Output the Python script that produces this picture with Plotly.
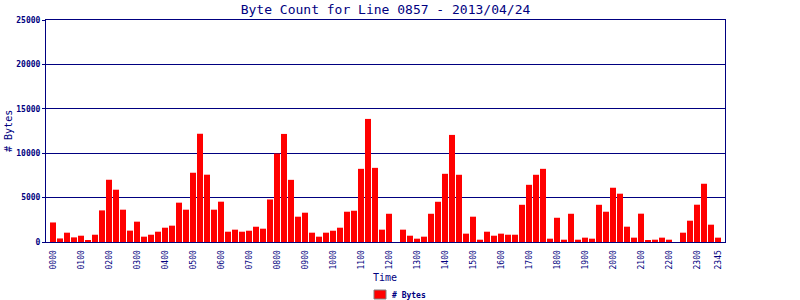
import plotly.graph_objects as go

# 15-minute intervals 0000 .. 2345
hours = ["%02d" % h for h in range(24)]
quarters = ["00", "15", "30", "45"]
times = [h + q for h in hours for q in quarters]

byte_counts = [
    2200, 400, 1050, 520, 710, 150, 820, 3560,
    7010, 5890, 3640, 1280, 2290, 600, 820, 1160,
    1610, 1840, 4430, 3640, 7800, 12190, 7580, 3640,
    4540, 1160, 1390, 1160, 1270, 1720, 1500, 4790,
    9960, 12170, 7000, 2850, 3300, 1050, 600, 1050,
    1270, 1610, 3410, 3520, 8240, 13860, 8350, 1390,
    3180, 0, 1390, 710, 375, 600, 3180, 4530,
    7680, 12060, 7570, 940, 2850, 260, 1160, 710,
    940, 820, 820, 4190, 6440, 7570, 8240, 375,
    2730, 260, 3180, 260, 490, 375, 4190, 3410,
    6110, 5440, 1725, 490, 3190, 150, 260, 490,
    260, 0, 1050, 2400, 4200, 6560, 1950, 490,
]

tick_labels = ["0000", "0100", "0200", "0300", "0400", "0500", "0600", "0700",
               "0800", "0900", "1000", "1100", "1200", "1300", "1400", "1500",
               "1600", "1700", "1800", "1900", "2000", "2100", "2200", "2300", "2345"]

y_ticks = [0, 5000, 10000, 15000, 20000, 25000]

NAVY = "#000080"
FONT = "DejaVu Sans Mono"

fig = go.Figure()
fig.add_trace(go.Bar(
    x=times, y=byte_counts, name="# Bytes",
    marker=dict(color="#FF0000", line=dict(width=0)),
    showlegend=False,
))

fig.update_layout(
    width=800, height=300,
    margin=dict(l=46, r=75, t=20, b=58, autoexpand=False),
    paper_bgcolor="white", plot_bgcolor="white",
    bargap=0.14,
    title=dict(text="Byte Count for Line 0857 - 2013/04/24",
               x=0.5, xref="paper", y=0.968, yref="container",
               xanchor="center", yanchor="middle",
               font=dict(family=FONT, size=13, color=NAVY)),
    showlegend=False,
)

fig.update_xaxes(
    type="category",
    categoryorder="array", categoryarray=times,
    range=[-1, 96],
    tickmode="array", tickvals=tick_labels, ticktext=tick_labels,
    tickangle=-90,
    tickfont=dict(family=FONT, size=8, color=NAVY),
    ticks="", ticklabelstandoff=4,
    showline=True, linecolor=NAVY, linewidth=1, mirror=True,
    showgrid=False, zeroline=False, automargin=False,
)
fig.update_yaxes(
    range=[0, 25000],
    tickmode="array", tickvals=y_ticks, ticktext=[str(v) for v in y_ticks],
    tickfont=dict(family=FONT, size=8, color=NAVY, weight="bold"),
    ticks="outside", ticklen=3, tickcolor=NAVY,
    showline=True, linecolor=NAVY, linewidth=1, mirror=True,
    showgrid=True, gridcolor=NAVY, gridwidth=1,
    zeroline=False, automargin=False,
)

fig.add_annotation(text="Time", xref="paper", yref="paper",
                   x=0.499, y=-0.158, showarrow=False,
                   xanchor="center", yanchor="middle",
                   font=dict(family=FONT, size=10, color=NAVY))
fig.add_annotation(text="# Bytes", xref="paper", yref="paper",
                   x=-0.056, y=0.5, showarrow=False, textangle=-90,
                   xanchor="center", yanchor="middle",
                   font=dict(family=FONT, size=10, color=NAVY))

# legend: swatch + label at the bottom centre
fig.add_shape(type="rect", xref="paper", yref="paper",
              x0=(374 - 46) / 679, x1=(386 - 46) / 679,
              y0=(242 - 299) / 222, y1=(242 - 290) / 222,
              fillcolor="#FF0000", line=dict(color="#808080", width=1))
fig.add_annotation(text="# Bytes", xref="paper", yref="paper",
                   x=(390 - 46) / 679, y=(242 - 295) / 222, showarrow=False,
                   xanchor="left", yanchor="middle",
                   font=dict(family=FONT, size=8, color=NAVY, weight="bold"))

fig.write_html("out.html")
